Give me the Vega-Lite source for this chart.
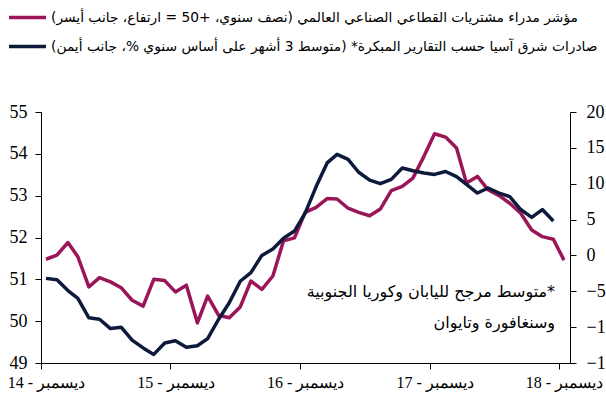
{
  "$schema": "https://vega.github.io/schema/vega-lite/v6.json",
  "width": 529,
  "height": 251,
  "autosize": {"type": "none"},
  "padding": {"left": 41, "top": 112, "right": 36, "bottom": 40},
  "background": "white",
  "config": {"view": {"stroke": null}, "font": "Liberation Serif"},
  "data": {
    "values": [
      {"month": "2014-12-15", "pmi": 51.48, "exports": -3.2},
      {"month": "2015-01-15", "pmi": 51.58, "exports": -3.4},
      {"month": "2015-02-15", "pmi": 51.88, "exports": -4.9},
      {"month": "2015-03-15", "pmi": 51.54, "exports": -6.0},
      {"month": "2015-04-15", "pmi": 50.82, "exports": -8.7},
      {"month": "2015-05-15", "pmi": 51.04, "exports": -8.9},
      {"month": "2015-06-15", "pmi": 50.94, "exports": -10.2},
      {"month": "2015-07-15", "pmi": 50.8, "exports": -10.0},
      {"month": "2015-08-15", "pmi": 50.5, "exports": -11.8},
      {"month": "2015-09-15", "pmi": 50.36, "exports": -12.9},
      {"month": "2015-10-15", "pmi": 51.0, "exports": -13.8},
      {"month": "2015-11-15", "pmi": 50.97, "exports": -12.2},
      {"month": "2015-12-15", "pmi": 50.7, "exports": -11.9},
      {"month": "2016-01-15", "pmi": 50.86, "exports": -12.8},
      {"month": "2016-02-15", "pmi": 49.96, "exports": -12.6},
      {"month": "2016-03-15", "pmi": 50.6, "exports": -11.6},
      {"month": "2016-04-15", "pmi": 50.14, "exports": -8.9},
      {"month": "2016-05-15", "pmi": 50.08, "exports": -6.6},
      {"month": "2016-06-15", "pmi": 50.34, "exports": -3.6},
      {"month": "2016-07-15", "pmi": 50.96, "exports": -2.4},
      {"month": "2016-08-15", "pmi": 50.76, "exports": 0.0},
      {"month": "2016-09-15", "pmi": 51.08, "exports": 0.9},
      {"month": "2016-10-15", "pmi": 51.92, "exports": 2.4},
      {"month": "2016-11-15", "pmi": 51.99, "exports": 3.4},
      {"month": "2016-12-15", "pmi": 52.6, "exports": 5.9},
      {"month": "2017-01-15", "pmi": 52.72, "exports": 9.6},
      {"month": "2017-02-15", "pmi": 52.93, "exports": 12.9},
      {"month": "2017-03-15", "pmi": 52.92, "exports": 14.1},
      {"month": "2017-04-15", "pmi": 52.7, "exports": 13.4},
      {"month": "2017-05-15", "pmi": 52.6, "exports": 11.6},
      {"month": "2017-06-15", "pmi": 52.52, "exports": 10.5},
      {"month": "2017-07-15", "pmi": 52.68, "exports": 10.0},
      {"month": "2017-08-15", "pmi": 53.12, "exports": 10.6},
      {"month": "2017-09-15", "pmi": 53.22, "exports": 12.2},
      {"month": "2017-10-15", "pmi": 53.42, "exports": 11.8},
      {"month": "2017-11-15", "pmi": 53.94, "exports": 11.5},
      {"month": "2017-12-15", "pmi": 54.48, "exports": 11.3},
      {"month": "2018-01-15", "pmi": 54.4, "exports": 11.7},
      {"month": "2018-02-15", "pmi": 54.14, "exports": 11.0},
      {"month": "2018-03-15", "pmi": 53.3, "exports": 9.9},
      {"month": "2018-04-15", "pmi": 53.46, "exports": 8.7},
      {"month": "2018-05-15", "pmi": 53.14, "exports": 9.4},
      {"month": "2018-06-15", "pmi": 53.0, "exports": 8.7},
      {"month": "2018-07-15", "pmi": 52.82, "exports": 8.2},
      {"month": "2018-08-15", "pmi": 52.58, "exports": 6.4},
      {"month": "2018-09-15", "pmi": 52.18, "exports": 5.3},
      {"month": "2018-10-15", "pmi": 52.02, "exports": 6.4},
      {"month": "2018-11-15", "pmi": 51.96, "exports": 4.8},
      {"month": "2018-12-15", "pmi": 51.46, "exports": null}
    ]
  },
  "layer": [
    {
      "mark": {"type": "line", "strokeWidth": 3.5, "strokeJoin": "round"},
      "encoding": {
        "x": {
          "field": "month",
          "type": "temporal",
          "scale": {
            "type": "utc",
            "domain": [
              {"year": 2014, "month": 12, "date": 1, "utc": true},
              {"year": 2019, "month": 1, "date": 1, "utc": true}
            ]
          },
          "axis": {
            "title": null,
            "grid": false,
            "values": [
              {"year": 2014, "month": 12, "date": 1, "utc": true},
              {"year": 2015, "month": 12, "date": 1, "utc": true},
              {"year": 2016, "month": 12, "date": 1, "utc": true},
              {"year": 2017, "month": 12, "date": 1, "utc": true},
              {"year": 2018, "month": 12, "date": 1, "utc": true}
            ],
            "labelExpr": "'\u202bديسمبر - ' + utcFormat(datum.value, '%y') + '\u202c'",
            "domainColor": "black",
            "tickColor": "black",
            "tickSize": 6,
            "labelFont": "Liberation Serif",
            "labelFontSize": 16,
            "labelColor": "black",
            "labelOffset": 5,
            "labelPadding": 5,
            "labelFlush": false,
            "labelOverlap": false
          }
        },
        "y": {
          "field": "pmi",
          "type": "quantitative",
          "scale": {"domain": [49, 55], "nice": false, "zero": false},
          "axis": {
            "orient": "left",
            "title": null,
            "grid": false,
            "values": [49, 50, 51, 52, 53, 54, 55],
            "domainColor": "black",
            "tickColor": "black",
            "tickSize": 6,
            "labelPadding": 8,
            "labelFont": "Liberation Serif",
            "labelFontSize": 18,
            "labelColor": "black"
          }
        },
        "color": {
          "datum": "pmi",
          "type": "nominal",
          "scale": {"domain": ["pmi", "exports"], "range": ["#9A1658", "#0E1A3C"]},
          "legend": {
            "orient": "none",
            "legendX": -34,
            "legendY": -109,
            "direction": "vertical",
            "title": null,
            "symbolType": "stroke",
            "symbolSize": 1369,
            "symbolStrokeWidth": 3.5,
            "symbolOffset": 0,
            "labelFont": "DejaVu Sans",
            "labelFontSize": 13.8,
            "labelColor": "black",
            "labelLimit": 900,
            "labelOffset": 3,
            "clipHeight": 29,
            "rowPadding": 0,
            "padding": 0,
            "labelExpr": "datum.value == 'pmi' ? '\u202bمؤشر مدراء مشتريات القطاعي الصناعي العالمي (نصف سنوي، +50 = ارتفاع، جانب أيسر)\u202c' : '\u202bصادرات شرق آسيا حسب التقارير المبكرة* (متوسط 3 أشهر على أساس سنوي %، جانب أيمن)\u202c'"
          }
        }
      }
    },
    {
      "mark": {"type": "line", "strokeWidth": 3.5, "strokeJoin": "round"},
      "encoding": {
        "x": {"field": "month", "type": "temporal"},
        "y": {
          "field": "exports",
          "type": "quantitative",
          "scale": {"domain": [-15, 20], "nice": false, "zero": false},
          "axis": {
            "orient": "right",
            "title": null,
            "grid": false,
            "values": [-15, -10, -5, 0, 5, 10, 15, 20],
            "domainColor": "black",
            "tickColor": "black",
            "tickSize": 6,
            "labelPadding": 10,
            "labelFont": "Liberation Serif",
            "labelFontSize": 18,
            "labelColor": "black"
          }
        },
        "color": {"datum": "exports", "type": "nominal"}
      }
    },
    {
      "data": {
        "values": [
          {"month": "2018-11-20", "value": 50.7, "note": "\u202b*متوسط مرجح لليابان وكوريا الجنوبية\u202c\n\u202bوسنغافورة وتايوان\u202c"}
        ]
      },
      "mark": {
        "type": "text",
        "align": "right",
        "baseline": "middle",
        "lineBreak": "\n",
        "lineHeight": 31,
        "font": "DejaVu Sans",
        "fontSize": 16,
        "color": "black"
      },
      "encoding": {
        "x": {"field": "month", "type": "temporal"},
        "y": {"field": "value", "type": "quantitative", "scale": {"domain": [49, 55], "nice": false, "zero": false}, "axis": null},
        "text": {"field": "note"}
      }
    }
  ],
  "resolve": {"scale": {"y": "independent"}}
}
